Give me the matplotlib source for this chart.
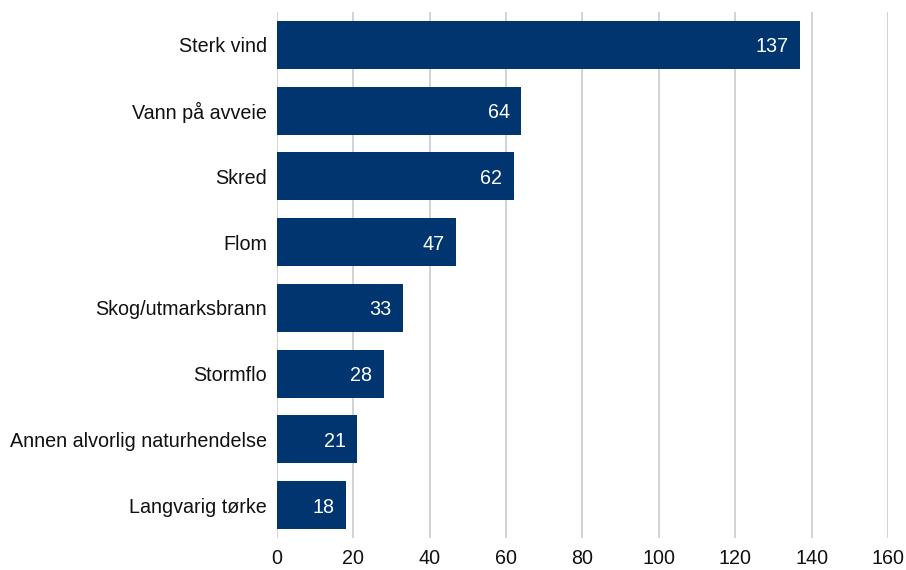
import matplotlib.pyplot as plt

plt.rcParams['font.family'] = ['Liberation Sans', 'DejaVu Sans']

kategorier = ['Sterk vind', 'Vann på avveie', 'Skred', 'Flom',
              'Skog/utmarksbrann', 'Stormflo', 'Annen alvorlig naturhendelse',
              'Langvarig tørke']
antall = [137, 64, 62, 47, 33, 28, 21, 18]

farge = '#00356f'

fig = plt.figure(figsize=(9.06, 5.70), dpi=100)
ax = fig.add_axes([0.3057, 0.0561, 0.6744, 0.9229])

pos = range(len(kategorier))
ax.barh(pos, antall, height=0.73, color=farge, zorder=2)
for i, v in zip(pos, antall):
    ax.text(v - 3, i + 0.03, str(v), color='white', fontsize=14.2,
            ha='right', va='center', zorder=3)

ax.set_ylim(len(kategorier) - 0.5, -0.5)
ax.set_xlim(0, 160)
ax.set_xticks(range(0, 161, 20))
ax.set_yticks(list(pos))
ax.set_yticklabels(kategorier)
ax.tick_params(axis='both', length=0, labelsize=14.2, colors='#111111')
ax.tick_params(axis='x', pad=8)
ax.tick_params(axis='y', pad=7)
ax.xaxis.grid(True, color='#d0d0d0', linewidth=1.3, zorder=0)
for s in ax.spines.values():
    s.set_visible(False)

fig.savefig('out.png', dpi=100)
